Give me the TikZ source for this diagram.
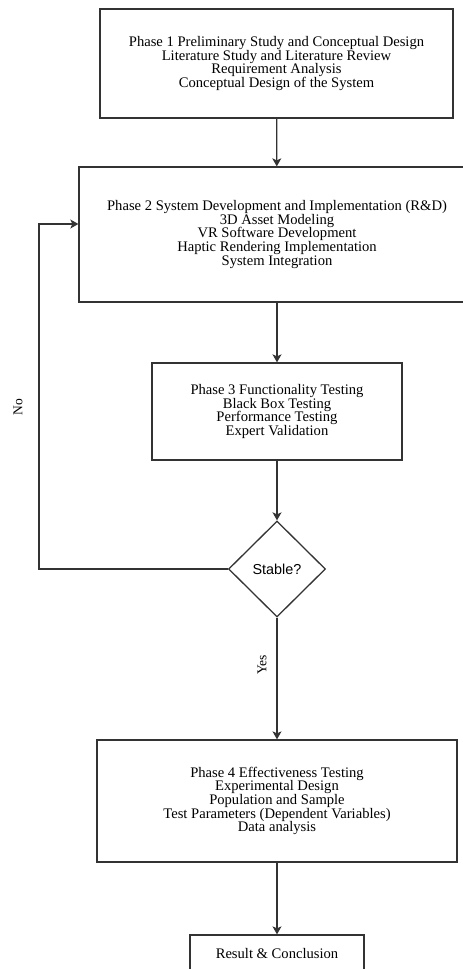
\documentclass[tikz,border=0pt]{standalone}
\usepackage{fontspec}
\setmainfont{Liberation Serif}
\newfontfamily\labelsans{Liberation Sans}
\usepackage{tikz}
\usetikzlibrary{shapes.geometric, arrows.meta}

\tikzset{
    phasebox/.style={draw=black!80, line width=1.3pt, align=center, inner sep=0pt,
        font=\fontsize{14.6}{13.6}\selectfont},
    decision/.style={draw=black!80, line width=1.3pt, diamond, inner sep=0pt,
        font=\labelsans\fontsize{14.4}{14}\selectfont},
    flow/.style={draw=black!80, line width=1.3pt, -{Stealth[length=8pt, width=9pt, inset=2pt]}},
    sidelabel/.style={rotate=90, font=\fontsize{13.5}{14}\selectfont}
}

\begin{document}
\begin{tikzpicture}[x=1pt, y=-1pt]
    \clip (0,0) rectangle (463,969);
    \useasboundingbox (0,0) rectangle (463,969);

    \node[phasebox, minimum width=353pt, minimum height=109pt] (p1) at (276.5,63.5)
        {Phase 1 Preliminary Study and Conceptual Design\\Literature Study and Literature Review\\Requirement Analysis\\Conceptual Design of the System};
    \node[phasebox, minimum width=396pt, minimum height=135pt] (p2) at (277,234.5)
        {Phase 2 System Development and Implementation (R\&D)\\3D Asset Modeling\\VR Software Development\\Haptic Rendering Implementation\\System Integration};
    \node[phasebox, minimum width=250pt, minimum height=97pt] (p3) at (277,411.5)
        {Phase 3 Functionality Testing\\Black Box Testing\\Performance Testing\\Expert Validation};
    \node[decision, minimum width=97pt, minimum height=96pt] (stable) at (277,569) {Stable?};
    \node[phasebox, minimum width=360pt, minimum height=122pt] (p4) at (277,801)
        {Phase 4 Effectiveness Testing\\Experimental Design\\Population and Sample\\Test Parameters (Dependent Variables)\\Data analysis};
    \node[phasebox, minimum width=174pt, minimum height=36pt] (result) at (277,953)
        {Result \& Conclusion};

    \coordinate (noback) at (39,224);

    \draw[flow] (p1) -- (p2);
    \draw[flow] (p2) -- (p3);
    \draw[flow] (p3) -- (stable);
    \draw[flow] (stable) -- (p4);
    \draw[flow] (p4) -- (result);
    \draw[flow] (stable.west) -| (noback) -- (noback -| p2.west);

    \node[sidelabel] (nolabel) at (18,407) {No};
    \node[sidelabel] (yeslabel) at (262,665) {Yes};
\end{tikzpicture}
\end{document}
